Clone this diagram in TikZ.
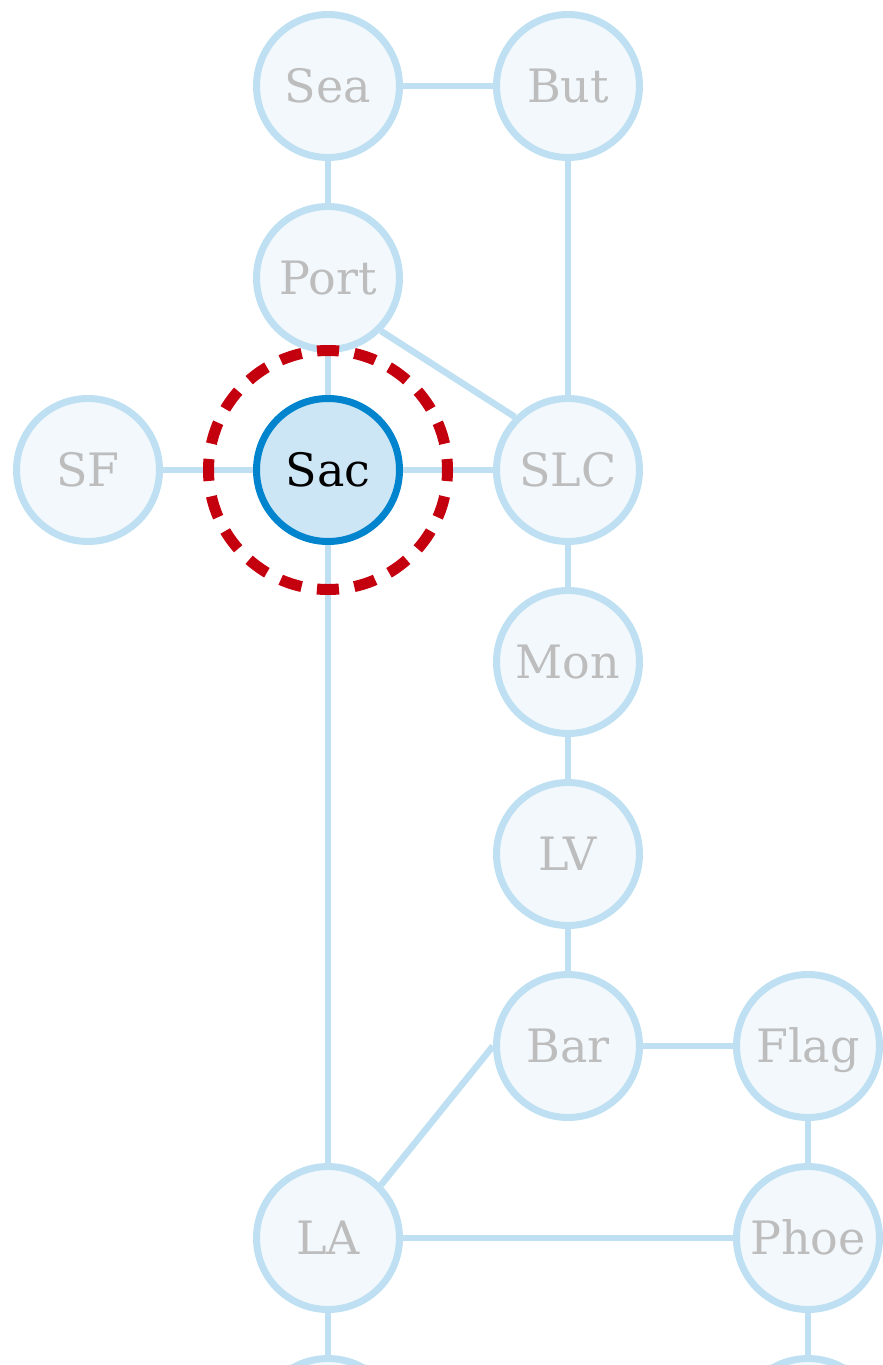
\documentclass[tikz,border=0pt]{standalone}
\usepackage{fontspec}
\setmainfont{DejaVu Serif}
\usepackage{tikz}
\usetikzlibrary{positioning}

\definecolor{cityline}{RGB}{190,224,242}
\definecolor{cityfill}{RGB}{242,248,252}
\definecolor{citytext}{RGB}{189,189,189}
\definecolor{currfill}{RGB}{205,230,245}
\definecolor{currline}{RGB}{0,132,206}
\definecolor{ringred}{RGB}{196,0,14}

\begin{document}
\begin{tikzpicture}[x = 1pt, y = -1pt]
   \tikzset{
     city/.style    = { circle,
                        draw         = cityline,
                        fill         = cityfill,
                        line width   = 7pt,
                        minimum size = 143pt,
                        inner sep    = 0pt,
                        text         = citytext,
                        text height  = 33.5pt,
                        text depth   = 0pt,
                        font         = \fontsize{46}{50}\selectfont },
     current/.style = { city,
                        draw = currline,
                        fill = currfill,
                        text = black },
     ring/.style    = { circle,
                        draw         = ringred,
                        line width   = 11pt,
                        dash pattern = on 22pt off 15.54pt,
                        dash phase   = 11pt,
                        minimum size = 239pt,
                        inner sep    = 0pt },
     road/.style    = { draw       = cityline,
                        line width = 6.5pt },
     node distance  = 192pt and 240pt,
     on grid
   }

   \useasboundingbox (0,0) rectangle (883,1365);

    % top row
    \node [city] (Sea) at (328,86) {Sea};
    \node [city, right = of Sea] (But) {But};
    \node [city, below = of Sea] (Port) {Port};

    % current city and neighbours
    \node [current, below = of Port] (Sac) {Sac};
    \node [city, left  = of Sac] (SF)  {SF};
    \node [city, right = of Sac] (SLC) {SLC};

    % right column
    \node [city, below = of SLC]  (Mon)  {Mon};
    \node [city, below = of Mon]  (LV)   {LV};
    \node [city, below = of LV]   (Bar)  {Bar};
    \node [city, right = of Bar]  (Flag) {Flag};
    \node [city, below = of Flag] (Phoe) {Phoe};
    \node [city, below left = 192pt and 240pt of Bar] (LA) {LA};

    % cut off at the bottom
    \node [city, below = of LA]   (LAnext)   {};
    \node [city, below = of Phoe] (Phoenext) {};

    % roads
    \draw [road] (Sea) -- (But);
    \draw [road] (Sea) -- (Port);
    \draw [road] (But) -- (SLC);
    \draw [road] (Port) -- (Sac);
    \draw [road] (Port.south east) -- (SLC.north west);
    \draw [road] (SF) -- (Sac);
    \draw [road] (Sac) -- (SLC);
    \draw [road] (Sac) -- (LA);
    \draw [road] (SLC) -- (Mon);
    \draw [road] (Mon) -- (LV);
    \draw [road] (LV) -- (Bar);
    \draw [road] (Bar) -- (Flag);
    \draw [road] (Bar.west) -- (LA.north east);
    \draw [road] (Flag) -- (Phoe);
    \draw [road] (LA) -- (Phoe);
    \draw [road] (LA) -- (LAnext);
    \draw [road] (Phoe) -- (Phoenext);

    % highlight round the current city
    \node [ring] (SacRing) at (Sac.center) {};

\end{tikzpicture}
\end{document}
